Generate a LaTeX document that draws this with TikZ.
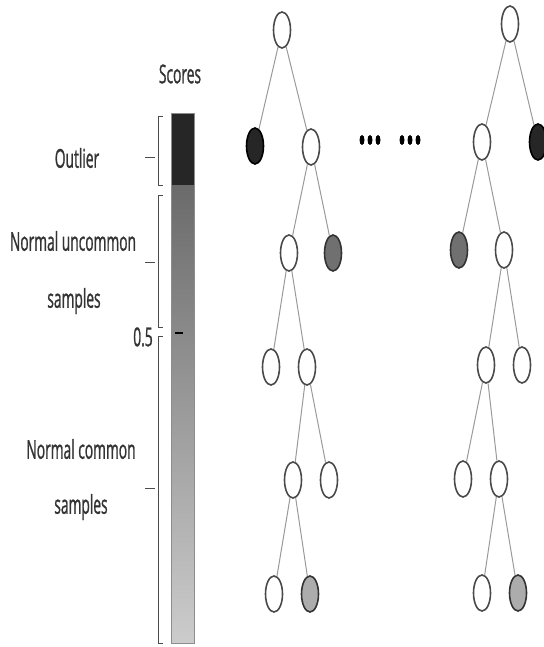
\documentclass[tikz,border=0pt]{standalone}
\usepackage{fontspec}
\setmainfont{Open Sans}
\newfontfamily\cond[FakeStretch=0.53,FakeBold=0.9]{Open Sans}
\usetikzlibrary{shapes.geometric}
\definecolor{darkfill}{HTML}{262626}
\definecolor{midfill}{HTML}{707070}
\definecolor{lightfill}{HTML}{ACACAC}
\definecolor{edgegray}{HTML}{9A9A9A}
\definecolor{rimgray}{HTML}{4A4A4A}
\tikzset{
  leaf/.style={ellipse,draw=rimgray,line width=1.6pt,fill=white,minimum width=17pt,minimum height=36pt,inner sep=0pt},
  outl/.style={leaf,fill=darkfill,draw=black},
  midl/.style={leaf,fill=midfill,draw=black!80},
  lowl/.style={leaf,fill=lightfill,draw=black!80},
  branch/.style={draw=edgegray,line width=1pt},
  lab/.style={font=\cond\fontsize{26}{30}\selectfont,text=black!80,inner sep=0pt},
  brk/.style={draw=black!70,line width=0.9pt},
  dotmark/.style={ellipse,fill=black,minimum width=5pt,minimum height=10pt,inner sep=0pt}
}
\begin{document}
\begin{tikzpicture}[x=1pt,y=-1pt]
\useasboundingbox (0,0) rectangle (543,647);
% score bar
\shade[top color=midfill!95!black, bottom color=black!20] (171,185) rectangle (194,643);
\fill[darkfill] (171,113) rectangle (194,185);
\draw[black!45,line width=0.8pt] (171,113) rectangle (194,643);
\draw[black,line width=1.2pt] (175,333) -- (183,333);
% labels
\node[lab] (scores) at (180,74) {Scores};
\node[lab] (outlier) at (77,158) {Outlier};
\node[lab] (nu) at (73,241) {Normal uncommon};
\node[lab] (nus) at (74,301) {samples};
\node[lab] (half) at (143,337) {0.5};
\node[lab] (nc) at (81,449) {Normal common};
\node[lab] (ncs) at (81,507) {samples};
% brackets
\draw[brk] (163,116) -- (158,116) -- (158,185) -- (163,185);
\draw[brk] (145,157) -- (155,157);
\draw[brk] (163,195) -- (158,195) -- (158,327) -- (163,327);
\draw[brk] (145,262) -- (155,262);
\draw[brk] (163,336) -- (158,336) -- (158,643) -- (163,643);
\draw[brk] (145,488) -- (155,488);
% left tree
\node[leaf] (a0) at (282,30) {};
\node[outl] (a1) at (255,146) {};
\node[leaf] (a2) at (311,147) {};
\node[leaf] (a3) at (289,253) {};
\node[midl] (a4) at (333,253) {};
\node[leaf] (a5) at (271,367) {};
\node[leaf] (a6) at (307,367) {};
\node[leaf] (a7) at (293,480) {};
\node[leaf] (a8) at (329,480) {};
\node[leaf] (a9) at (274,594) {};
\node[lowl] (a10) at (310,594) {};
\draw[branch] (a0) -- (a1);
\draw[branch] (a0) -- (a2);
\draw[branch] (a2) -- (a3);
\draw[branch] (a2) -- (a4);
\draw[branch] (a3) -- (a5);
\draw[branch] (a3) -- (a6);
\draw[branch] (a6) -- (a7);
\draw[branch] (a6) -- (a8);
\draw[branch] (a7) -- (a9);
\draw[branch] (a7) -- (a10);
% right tree
\node[leaf] (b0) at (510,24) {};
\node[leaf] (b1) at (482,142) {};
\node[outl] (b2) at (538,142) {};
\node[midl] (b3) at (459,250) {};
\node[leaf] (b4) at (504,250) {};
\node[leaf] (b5) at (486,365) {};
\node[leaf] (b6) at (522,365) {};
\node[leaf] (b7) at (463,479) {};
\node[leaf] (b8) at (499,479) {};
\node[leaf] (b9) at (482,593) {};
\node[lowl] (b10) at (518,593) {};
\draw[branch] (b0) -- (b1);
\draw[branch] (b0) -- (b2);
\draw[branch] (b1) -- (b3);
\draw[branch] (b1) -- (b4);
\draw[branch] (b4) -- (b5);
\draw[branch] (b4) -- (b6);
\draw[branch] (b5) -- (b7);
\draw[branch] (b5) -- (b8);
\draw[branch] (b8) -- (b9);
\draw[branch] (b8) -- (b10);
% dots
\foreach \i/\xx in {1/362,2/370,3/378,4/402,5/410,6/418}
  \node[dotmark] (d\i) at (\xx,140) {};
\end{tikzpicture}
\end{document}
